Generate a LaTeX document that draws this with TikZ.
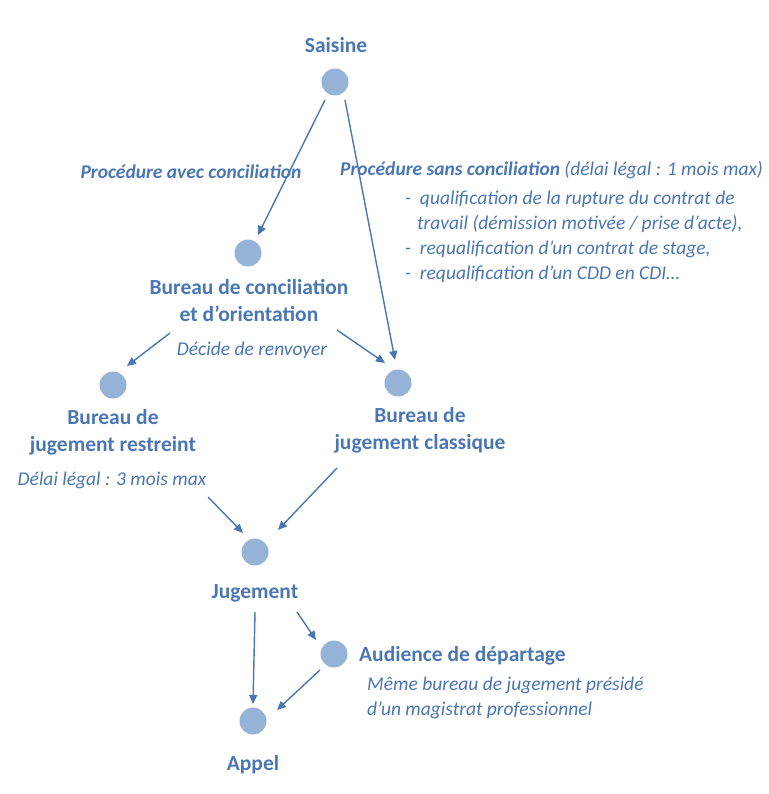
\documentclass[tikz,border=0pt]{standalone}
\usepackage{fontspec}
\setmainfont{Carlito}
\usetikzlibrary{arrows.meta}
\definecolor{tc}{HTML}{4A76B4}
\definecolor{cc}{HTML}{95B3D7}
\begin{document}
\begin{tikzpicture}[x=1pt,y=-1pt,
  dot/.style={circle,fill=cc,minimum size=27pt,inner sep=0},
  lab/.style={text=tc,font=\fontsize{21.5}{25}\selectfont\bfseries,align=center},
  it/.style={text=tc,font=\fontsize{19.5}{25}\selectfont\itshape},
  arr/.style={draw=tc,line width=1.4pt,-{Triangle[length=9pt,width=8pt]}}]
\useasboundingbox (0,0) rectangle (768,794);
\node[dot] (s) at (335,82) {};
\node[dot] (bc) at (248,253) {};
\node[dot] (br) at (113,385) {};
\node[dot] (bj) at (398,383) {};
\node[dot] (j) at (255,552) {};
\node[dot] (ad) at (334,654) {};
\node[dot] (ap) at (253,721) {};
\node[lab] (ts) at (336,45) {Saisine};
\node[lab,font=\fontsize{19.5}{23}\selectfont\bfseries\itshape] (pac) at (191,172) {Procédure avec conciliation};
\node[it,anchor=west,inner sep=0] (psc) at (340,170) {\bfseries Procédure sans conciliation \mdseries(délai légal : 1 mois max)};
\node[it,anchor=north west,align=left,inner sep=0] (lst) at (405,191) {-\ \ qualification de la rupture du contrat de\\
\hspace*{12pt}travail (démission motivée / prise d’acte),\\
-\ \ requalification d’un contrat de stage,\\
-\ \ requalification d’un CDD en CDI…};
\node[lab] (tbc) at (249,301) {Bureau de conciliation\\[2pt]et d’orientation};
\node[it] (dec) at (252,350) {Décide de renvoyer};
\node[lab] (tbr) at (113,432) {Bureau de\\[2pt]jugement restreint};
\node[lab] (tbj) at (420,430) {Bureau de\\[2pt]jugement classique};
\node[it] (del) at (112,480) {Délai légal : 3 mois max};
\node[lab] (tj) at (255,593) {Jugement};
\node[lab,anchor=west,inner sep=0] (tad) at (359,656) {Audience de départage};
\node[it,anchor=north west,align=left,inner sep=0] (mb) at (367,677) {Même bureau de jugement présidé\\d’un magistrat professionnel};
\node[lab] (tap) at (253,765) {Appel};
\coordinate (a1) at (325,100); \coordinate (b1) at (258,235);
\coordinate (a2) at (345,100); \coordinate (b2) at (395,360);
\coordinate (a3) at (337,330); \coordinate (b3) at (385,363);
\coordinate (a4) at (170,333); \coordinate (b4) at (127,366);
\coordinate (a5) at (208,497); \coordinate (b5) at (243,533);
\coordinate (a6) at (337,468); \coordinate (b6) at (278,530);
\coordinate (a7) at (255,612); \coordinate (b7) at (253,704);
\coordinate (a8) at (297,612); \coordinate (b8) at (316,640);
\coordinate (a9) at (320,670); \coordinate (b9) at (277,710);
\foreach \i in {1,...,9} \draw[arr] (a\i) -- (b\i);
\end{tikzpicture}
\end{document}
